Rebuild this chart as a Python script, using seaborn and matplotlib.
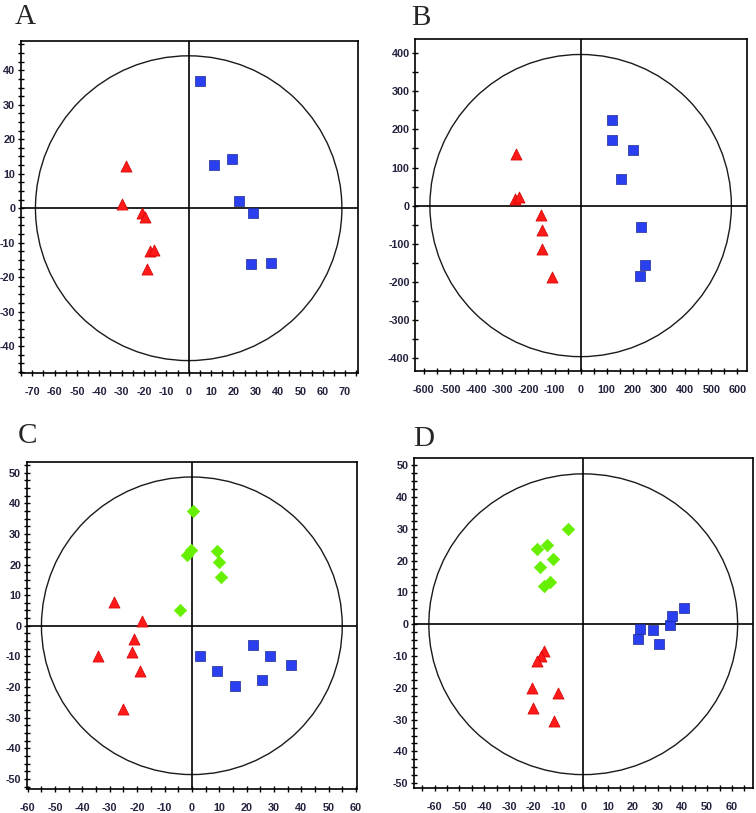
import matplotlib
matplotlib.use("Agg")
import matplotlib.pyplot as plt
from matplotlib.patches import Ellipse
from matplotlib.ticker import MultipleLocator
import numpy as np
import pandas as pd
import seaborn as sns

# -- data ---------------------------------------------------------------------

# Panel A
A_SQ_X = [4.9, 11.3, 19.3, 22.4, 28.8, 28.1, 36.7]
A_SQ_Y = [36.9, 12.6, 14.4, 2.2, -1.3, -16.1, -15.8]
A_TRI_X = [-28.2, -29.9, -20.7, -19.4, -17.2, -15.7, -18.7]
A_TRI_Y = [12.3, 1.1, -1.3, -2.5, -12.4, -12.0, -17.5]

# Panel B
B_SQ_X = [119, 121, 200, 153, 231, 248, 227]
B_SQ_Y = [225, 173, 145, 69, -57, -156, -186]
B_TRI_X = [-246, -251, -237, -152, -149, -149, -111]
B_TRI_Y = [135, 17, 22, -26, -64, -115, -189]

# Panel C
C_SQ_X = [2.9, 9.1, 15.8, 22.4, 25.8, 28.7, 36.2]
C_SQ_Y = [-9.8, -14.9, -19.8, -6.3, -17.7, -9.9, -12.7]
C_TRI_X = [-28.5, -18.1, -21.1, -21.9, -34.3, -19.0, -25.2]
C_TRI_Y = [7.8, 1.6, -4.4, -8.7, -9.8, -14.7, -27.1]
C_DIA_X = [0.4, -1.6, -0.2, 9.1, 10.1, 10.7, -4.5]
C_DIA_Y = [37.6, 23.1, 24.8, 24.5, 20.8, 15.8, 5.2]

# Panel D
D_SQ_X = [23.1, 21.9, 28.1, 30.7, 35.0, 36.0, 40.8]
D_SQ_Y = [-1.6, -4.6, -1.8, -6.1, -0.3, 2.6, 5.0]
D_TRI_X = [-15.7, -17.1, -18.7, -20.8, -10.1, -20.4, -11.8]
D_TRI_Y = [-8.4, -10.0, -11.5, -20.2, -21.5, -26.5, -30.3]
D_DIA_X = [-6.3, -18.7, -14.7, -12.0, -17.6, -13.6, -15.9]
D_DIA_Y = [29.9, 23.6, 25.0, 20.4, 18.1, 13.3, 12.1]

PANEL_LABELS = ["A", "B", "C", "D"]

# Hotelling ellipse radii (x, y) per panel
ELLIPSES = {"A": (68.6, 44.2), "B": (577, 397), "C": (55.0, 48.6), "D": (62.3, 47.3)}

# -- styling -----------------------------------------------------------------

COLORS = {"square": "#2a40f0", "triangle": "#ff1a1a", "diamond": "#66f000"}
EDGES = {"square": "#1c2a90", "triangle": "#d00000", "diamond": "#66f000"}
MARKERS = {"square": "s", "triangle": "^", "diamond": "D"}
SIZES = {"square": 48, "triangle": 64, "diamond": 40}

PANELS = {
    "A": dict(rect=[0.0274, 0.5412, 0.4461, 0.4088], xlim=(-75.2, 75.8), ylim=(-47.8, 48.6),
              xmaj=10, xmin=5, ymaj=10, ymin=2.5, xr=(-70, 70), yr=(-40, 40)),
    "B": dict(rect=[0.5493, 0.5440, 0.4392, 0.4077], xlim=(-633, 638), ylim=(-434, 437),
              xmaj=100, xmin=50, ymaj=100, ymin=50, xr=(-600, 600), yr=(-400, 400)),
    "C": dict(rect=[0.0353, 0.0292, 0.4373, 0.4029], xlim=(-60.4, 60.5), ylim=(-53.4, 53.6),
              xmaj=10, xmin=5, ymaj=10, ymin=2.5, xr=(-60, 60), yr=(-50, 50)),
    "D": dict(rect=[0.5476, 0.0304, 0.4484, 0.4059], xlim=(-68.3, 68.5), ylim=(-51.6, 52.2),
              xmaj=10, xmin=5, ymaj=10, ymin=2.5, xr=(-60, 60), yr=(-50, 50)),
}

LABEL_POS = {"A": (15, 24), "B": (411, 25), "C": (18, 443), "D": (413, 446)}


def build_df(groups):
    rows = []
    for name, xs, ys in groups:
        for x, y in zip(xs, ys):
            rows.append({"group": name, "x": x, "y": y})
    return pd.DataFrame(rows)


DATA = {
    "A": build_df([("square", A_SQ_X, A_SQ_Y), ("triangle", A_TRI_X, A_TRI_Y)]),
    "B": build_df([("square", B_SQ_X, B_SQ_Y), ("triangle", B_TRI_X, B_TRI_Y)]),
    "C": build_df([("diamond", C_DIA_X, C_DIA_Y), ("triangle", C_TRI_X, C_TRI_Y),
                   ("square", C_SQ_X, C_SQ_Y)]),
    "D": build_df([("diamond", D_DIA_X, D_DIA_Y), ("triangle", D_TRI_X, D_TRI_Y),
                   ("square", D_SQ_X, D_SQ_Y)]),
}

sns.set_style("white")
plt.rcParams["font.family"] = ["Liberation Sans", "DejaVu Sans"]

fig = plt.figure(figsize=(7.56, 8.13), dpi=100)

for key in PANEL_LABELS:
    p = PANELS[key]
    ax = fig.add_axes(p["rect"])
    df = DATA[key]

    rx, ry = ELLIPSES[key]
    ax.add_patch(Ellipse((0, 0), 2 * rx, 2 * ry, fill=False, edgecolor="#1a1a1a",
                         linewidth=1.0, zorder=1))
    ax.axhline(0, color="black", linewidth=1.2, zorder=2)
    ax.axvline(0, color="black", linewidth=1.2, zorder=2)

    for grp, sub in df.groupby("group", sort=False):
        sns.scatterplot(data=sub, x="x", y="y", marker=MARKERS[grp], s=SIZES[grp],
                        color=COLORS[grp], edgecolor=EDGES[grp], linewidth=0.5,
                        legend=False, ax=ax, zorder=3)

    ax.set_xlim(*p["xlim"])
    ax.set_ylim(*p["ylim"])
    ax.set_xticks(np.arange(p["xr"][0], p["xr"][1] + 1e-9, p["xmaj"]))
    ax.set_yticks(np.arange(p["yr"][0], p["yr"][1] + 1e-9, p["ymaj"]))
    ax.xaxis.set_minor_locator(MultipleLocator(p["xmin"]))
    ax.yaxis.set_minor_locator(MultipleLocator(p["ymin"]))
    ax.set_xticklabels([f"{int(v)}" for v in ax.get_xticks()], fontweight="bold")
    ax.set_yticklabels([f"{int(v)}" for v in ax.get_yticks()], fontweight="bold")
    ax.set_xlabel("")
    ax.set_ylabel("")

    ax.tick_params(which="both", direction="inout", length=4, width=1.0,
                   color="black", labelsize=7.8, labelcolor="#23233f")
    ax.tick_params(axis="x", which="major", pad=8)
    ax.tick_params(axis="y", which="major", pad=2)
    ax.tick_params(which="both", bottom=True, left=True, top=False, right=False)

    for sp in ax.spines.values():
        sp.set_visible(True)
        sp.set_color("black")
        sp.set_linewidth(1.2)

    lx, ly = LABEL_POS[key]
    fig.text(lx / 756, 1 - ly / 813, key, family=["Liberation Serif", "DejaVu Serif"],
             fontsize=21, va="baseline", ha="left")

fig.savefig("out.png", dpi=100)
